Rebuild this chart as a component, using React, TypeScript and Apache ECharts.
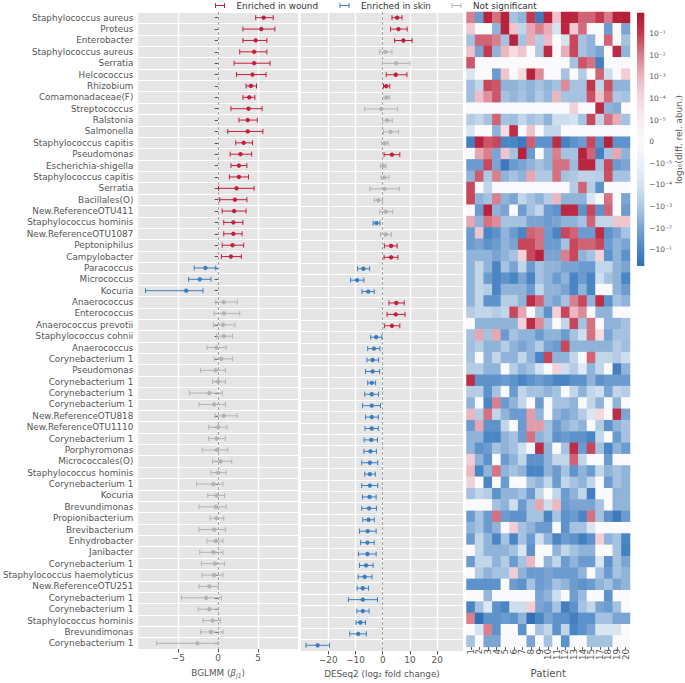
import React, { useEffect, useRef } from 'react';
import * as echarts from 'echarts';

const taxa = [
  'Staphylococcus aureus', 'Proteus', 'Enterobacter', 'Staphylococcus aureus', 'Serratia', 'Helcococcus',
  'Rhizobium', 'Comamonadaceae(F)', 'Streptococcus', 'Ralstonia', 'Salmonella', 'Staphylococcus capitis',
  'Pseudomonas', 'Escherichia-shigella', 'Staphylococcus capitis', 'Serratia', 'Bacillales(O)',
  'New.ReferenceOTU411', 'Staphylococcus hominis', 'New.ReferenceOTU1087', 'Peptoniphilus', 'Campylobacter',
  'Paracoccus', 'Micrococcus', 'Kocuria', 'Anaerococcus', 'Enterococcus', 'Anaerococcus prevotii',
  'Staphylococcus cohnii', 'Anaerococcus', 'Corynebacterium 1', 'Pseudomonas', 'Corynebacterium 1',
  'Corynebacterium 1', 'Corynebacterium 1', 'New.ReferenceOTU818', 'New.ReferenceOTU1110', 'Corynebacterium 1',
  'Porphyromonas', 'Micrococcales(O)', 'Staphylococcus hominis', 'Corynebacterium 1', 'Kocuria', 'Brevundimonas',
  'Propionibacterium', 'Brevibacterium', 'Enhydrobacter', 'Janibacter', 'Corynebacterium 1',
  'Staphylococcus haemolyticus', 'New.ReferenceOTU251', 'Corynebacterium 1', 'Corynebacterium 1',
  'Staphylococcus hominis', 'Brevundimonas', 'Corynebacterium 1',
];

const patients = ['1', '2', '3', '4', '5', '6', '7', '8', '9', '10', '11', '12', '13', '14', '15', '17', '18', '19', '20'];

const bglmmEst = [5.7, 5.4, 4.7, 4.5, 4.5, 4.3, 4.1, 3.9, 3.8, 3.7, 3.7, 3.2, 2.8, 2.6, 2.6, 2.3, 2.1, 2.0, 1.9, 1.9, 1.8, 1.6, -1.6, -2.3, -4.0, 0.7, 0.7, 0.6, 0.7, -0.2, 0.4, -0.3, 0.0, -1.1, -0.5, 0.7, 0.0, -0.2, -0.1, 0.3, 0.0, -0.6, -0.2, -0.3, -0.2, -0.5, -0.3, -0.6, -0.4, -0.5, -1.1, -1.5, -1.1, -0.7, -0.9, -2.6];
const bglmmLo = [4.7, 3.1, 3.1, 2.7, 2.0, 2.3, 3.5, 3.1, 1.6, 2.6, 1.2, 2.2, 1.5, 1.6, 1.4, 0.05, 0.2, 0.5, 0.7, 0.7, 0.5, 0.4, -3.0, -3.7, -9.1, -0.3, -0.5, -0.6, -0.2, -1.4, -0.5, -2.2, -0.7, -3.6, -2.4, -0.4, -1.2, -1.2, -2.0, -0.7, -0.9, -2.7, -1.3, -2.4, -1.0, -2.4, -1.4, -2.3, -2.1, -2.0, -2.4, -4.6, -2.5, -1.9, -2.2, -7.7];
const bglmmHi = [6.9, 7.1, 6.1, 6.1, 6.5, 6.0, 4.8, 4.6, 5.5, 4.9, 5.6, 4.3, 4.2, 3.6, 3.8, 4.5, 3.6, 3.5, 3.1, 3.0, 3.2, 2.9, -0.3, -0.9, -1.9, 2.4, 2.7, 2.1, 1.8, 1.0, 1.8, 0.9, 0.9, 0.5, 0.9, 2.4, 1.1, 0.9, 1.2, 1.7, 1.0, 0.6, 0.8, 1.0, 0.7, 0.9, 0.6, 0.6, 0.8, 0.6, 0.0, 0.4, 0.0, 0.3, 0.6, 0.0];
const bglmmSig = ['w', 'w', 'w', 'w', 'w', 'w', 'w', 'w', 'w', 'w', 'w', 'w', 'w', 'w', 'w', 'w', 'w', 'w', 'w', 'w', 'w', 'w', 's', 's', 's', 'n', 'n', 'n', 'n', 'n', 'n', 'n', 'n', 'n', 'n', 'n', 'n', 'n', 'n', 'n', 'n', 'n', 'n', 'n', 'n', 'n', 'n', 'n', 'n', 'n', 'n', 'n', 'n', 'n', 'n', 'n'];

const deseqEst = [5.3, 5.8, 7.6, 1.0, 5.0, 4.8, 1.3, 1.5, -0.5, 1.6, 2.9, 0.8, 3.4, 0.3, 0.6, 0.6, -1.6, 1.1, -2.3, 1.1, 3.1, 3.1, -7.1, -9.4, -5.3, 5.0, 4.8, 3.4, -2.4, -3.2, -3.7, -3.7, -4.0, -4.0, -4.0, -4.0, -4.0, -4.2, -4.5, -4.7, -4.7, -4.7, -4.8, -5.0, -5.2, -5.5, -5.6, -5.6, -6.1, -6.6, -7.3, -7.3, -7.3, -8.2, -9.0, -23.9];
const deseqLo = [3.4, 2.9, 4.4, -1.1, -0.1, 1.3, 0.3, 0.5, -6.6, 0.0, 0.3, -0.3, 0.5, -0.8, -0.6, -4.7, -3.1, -1.1, -3.5, -0.8, 0.6, 0.5, -9.2, -11.8, -7.6, 2.3, 1.6, 0.6, -4.4, -5.5, -5.8, -6.3, -5.5, -6.6, -7.4, -6.3, -6.5, -6.8, -6.9, -7.7, -6.6, -7.7, -7.4, -7.7, -7.3, -8.5, -8.1, -8.9, -8.5, -9.0, -9.4, -12.6, -9.5, -9.8, -12.1, -28.2];
const deseqHi = [7.1, 9.0, 10.8, 3.4, 10.0, 8.9, 2.6, 2.6, 5.5, 3.5, 5.8, 2.1, 6.3, 1.3, 2.3, 6.1, 0.0, 3.7, -1.0, 3.2, 5.3, 5.6, -4.8, -6.9, -3.1, 7.9, 8.2, 6.3, -0.3, -1.0, -1.5, -1.1, -2.6, -1.5, -0.8, -1.6, -1.6, -1.9, -2.3, -1.8, -2.7, -1.8, -2.4, -2.3, -3.1, -2.4, -3.1, -2.4, -3.5, -3.9, -5.2, -1.9, -5.0, -6.3, -6.0, -19.5];
const deseqSig = ['w', 'w', 'w', 'n', 'n', 'w', 'w', 'n', 'n', 'n', 'n', 'n', 'w', 'n', 'n', 'n', 'n', 'n', 's', 'n', 'w', 'w', 's', 's', 's', 'w', 'w', 'w', 's', 's', 's', 's', 's', 's', 's', 's', 's', 's', 's', 's', 's', 's', 's', 's', 's', 's', 's', 's', 's', 's', 's', 's', 's', 's', 's', 's'];

// symlog level of the difference in relative abundance (0 = 0, +-1 = +-1e-5 ... +-5 = +-1e-1)
const heat = [
  [4.0, -4.3, 5.6, 4.2, 5.6, -3.2, -3.6, 5.0, -5.3, 5.6, 2.7, 5.6, 5.5, 4.4, 4.4, 5.0, 4.1, 5.6, 5.7],
  [2.4, 0, 0, -3.6, 5.6, 2.6, -2.5, 3.3, 4.0, 3.2, -2.0, 5.5, 2.4, 4.3, 0, 0, -4.3, 0, -4.0],
  [-3.2, 4.4, 4.4, 4.0, -3.2, 5.6, -3.2, 3.2, -2.9, 2.9, 0, -2.0, 4.8, -3.2, -3.6, 0, 4.4, 0, -3.2],
  [2.7, -4.0, 5.0, -3.6, 3.0, 1.8, 2.6, 0, -3.0, 5.4, 0, 3.2, 4.8, -3.2, -3.6, -4.0, 0, 5.4, -3.6],
  [4.6, 0, 0, 0, 0, 0, 0, 0, 0, 0, 0, 0, -3.2, 4.6, 4.2, -5.2, 0, 0, 0],
  [-1.8, 0, 0, -4.3, 2.6, 0, 1.8, 5.6, 3.8, 0, 0, -3.2, 0, -2.9, 0, 4.4, -2.2, 0, 2.3],
  [-3.3, -2.5, 4.8, 4.6, -3.6, -3.6, -3.3, -3.6, -3.2, -3.6, -3.2, 3.8, -3.2, -3.2, 5.1, -2.5, 4.7, -3.6, -3.6],
  [-3.3, 2.8, 3.7, 4.6, -3.2, -3.5, -3.2, -3.6, -3.0, -3.5, 3.0, -3.2, -3.2, -3.2, 4.7, 2.6, 4.3, -3.0, -3.2],
  [0, 0, 0, 0, 0, 0, 0, 0, 0, 0, 0, 0, 2.2, 0, 0, 5.4, -3.6, -3.8, 0],
  [-2.9, -2.5, -3.2, 4.4, -3.2, -3.3, -2.5, -3.2, -2.9, -3.6, -2.2, -2.2, -2.0, -3.2, 4.8, -2.5, 4.2, 3.2, -3.2],
  [-1.8, 0, 0, -3.6, 1.8, 5.3, 0, 2.6, 0, -2.5, -2.5, 0, 0, 0, 0, 0, 0, 0, 0],
  [-5.2, 5.6, 4.6, 4.8, -5.0, -5.0, -5.4, 4.5, -4.6, -4.6, 5.3, -5.2, -4.6, -4.3, 4.8, -4.6, 5.6, -4.6, -4.6],
  [0, 3.3, 4.0, -4.0, 2.6, -3.2, 5.6, -4.3, 0, -3.6, 4.0, -3.2, -3.2, 5.6, 4.4, -5.2, -3.2, 3.3, -3.6],
  [-4.3, -4.3, 4.8, -4.0, -5.4, -4.3, -4.0, -3.6, -3.2, -3.6, 4.2, 4.2, -3.4, 5.5, 5.5, -3.2, 4.8, -4.3, -4.0],
  [-3.6, 4.5, -3.0, 4.0, -3.6, -3.2, -3.6, 3.3, -3.0, -3.0, 4.2, -3.2, -3.0, -2.6, -2.6, -2.8, 4.7, -3.2, -3.2],
  [4.8, 0, -2.5, 0, 0, 0, 0, 0, 0, 0, 0, 0, -2.9, 4.4, -2.9, -4.6, 0, 0, 0],
  [4.8, -3.6, -3.2, 4.0, -3.6, -4.0, -2.5, -3.2, -3.6, -2.9, 3.0, -3.6, -3.6, -3.6, -1.8, 0, 4.2, 0, -4.0],
  [0, -4.3, 5.6, -3.6, -4.0, 0, -4.3, -3.2, -2.5, -4.3, -4.6, 5.4, 5.4, -4.6, 4.8, -4.6, 4.4, 0, -4.3],
  [3.3, -3.6, 4.2, 3.8, -3.2, -3.2, -3.2, -4.0, -4.0, -4.3, -4.0, -3.6, -3.6, -3.2, 4.4, -2.5, -2.5, 2.6, 2.6],
  [-4.3, 2.6, -5.0, -4.6, -3.6, -4.3, -5.0, 4.4, 4.2, -4.3, -5.0, 4.8, 4.4, -4.3, -4.3, 5.3, -4.6, -4.0, -3.2],
  [-4.3, -4.0, -4.6, -4.3, -3.6, -4.0, 4.8, 4.8, 4.2, -4.3, -4.3, -3.2, 4.8, 4.4, 4.4, 4.8, -4.3, -3.6, -4.0],
  [-3.6, -3.6, -3.6, -4.0, -3.6, -3.2, 2.2, 4.8, 5.6, -4.0, -4.0, 4.0, 4.8, -3.6, -3.2, 2.2, -4.6, -3.6, -4.6],
  [-3.6, -2.5, -3.6, -5.0, -3.2, -4.0, -2.5, -4.3, -3.2, -3.6, -3.6, -4.0, -4.0, -4.3, -4.3, -2.5, -2.5, -3.6, -4.0],
  [-3.6, -2.5, -4.3, -5.0, -4.6, -5.0, -4.0, -5.0, -3.2, -3.6, -4.3, -3.6, -5.0, -4.3, -5.0, -2.2, -3.2, -3.6, -5.0],
  [-3.6, -2.5, -2.9, -5.0, -3.6, -3.6, -3.6, -4.3, -2.5, -3.6, -3.6, -4.0, -5.0, -3.6, -5.0, 0, 0, -3.6, -4.3],
  [-3.6, -2.5, -4.6, -4.6, -2.9, -2.9, -3.6, 5.3, 4.4, -3.6, -4.0, -3.2, 4.0, 4.8, -3.6, 5.3, -4.6, -3.2, -3.6],
  [-2.9, -2.5, -2.5, -2.9, -2.5, 4.8, 3.3, 0, -3.2, -4.6, 2.2, 4.8, 3.0, 3.8, 0, -3.6, -3.6, 0, 0],
  [0, -3.6, -3.6, -3.6, -3.6, -3.6, 2.2, 5.3, 3.8, -3.2, 0, -2.5, 4.8, -3.2, 4.2, 0, -3.6, -3.6, -3.2],
  [-3.2, 3.3, -3.2, 3.3, -4.3, -3.2, -3.6, -3.6, -4.3, -3.6, -3.6, -4.3, -3.2, -2.2, 4.2, 1.8, -4.0, -3.2, -3.2],
  [-3.3, -2.9, -3.6, -3.6, -2.9, -3.6, -4.0, -3.6, -2.9, -4.0, -4.3, 4.8, -3.6, -3.6, -3.6, -3.6, -3.6, -2.9, -3.3],
  [-3.2, 0, -3.6, -2.5, -3.6, -3.6, -2.5, -3.6, -5.0, 4.8, -3.6, -3.6, -2.5, 0, 4.4, -2.5, -2.5, -2.9, -2.2],
  [-2.9, -2.9, -3.6, -3.6, 0, -2.9, -3.6, -3.2, -2.0, 0, 2.2, -2.2, -2.9, -1.5, -3.6, -2.5, 0, -5.2, -3.6],
  [5.3, -4.6, -4.6, -4.6, -4.3, -4.6, -5.0, -4.6, -4.3, -4.6, -5.0, -5.0, -4.6, -4.6, -3.6, -4.6, -4.3, -4.3, -4.3],
  [-2.9, -2.9, -4.6, -3.2, 0, -4.3, -2.5, -3.2, -3.2, -3.6, -3.2, 0, -2.5, -3.6, -2.5, -2.2, -4.0, -2.5, -2.9],
  [-3.6, 0, -5.0, 4.0, -4.3, -3.6, -2.5, 0, -4.3, 0, -3.2, -3.2, -3.6, 0, -2.5, -3.6, 0, -3.6, 0],
  [3.0, -2.9, 4.2, -2.5, -3.6, -4.3, -4.3, 3.5, -3.6, 0, -3.6, -4.0, -3.6, -2.9, -1.8, 2.0, 0, 5.3, -4.0],
  [-4.3, 3.3, -4.6, -4.6, -2.5, 0, -4.3, 3.5, 3.5, -3.2, -4.3, -3.6, -3.2, -3.6, 0, -2.9, -4.6, -3.6, -3.2],
  [-3.6, -3.6, -5.0, -5.0, -3.6, -3.2, -4.3, 4.2, -3.6, -3.2, -4.6, -4.3, -4.6, -4.6, -5.0, -2.5, 0, -4.3, -3.2],
  [-3.6, -4.6, -4.3, -3.2, -3.6, -3.2, -2.2, 0, 5.3, -3.6, 0, -3.2, 5.3, -4.3, 4.8, -3.2, -5.0, -3.6, -4.3],
  [2.3, -3.6, -4.6, 0, -4.3, -3.6, -2.5, -4.6, -4.6, -3.6, -2.5, -2.5, 4.4, -2.5, 0, 0, -4.3, 0, 0],
  [3.0, -5.0, -3.6, 4.2, -3.6, -3.2, -3.6, -5.0, -5.0, -3.6, -4.3, -3.2, -4.6, -3.6, -4.3, -2.5, -3.6, -3.2, -3.6],
  [2.2, 0, -5.0, 0, -4.3, 0, 0, -3.2, -3.6, -2.5, -4.3, -2.5, -3.2, -3.6, -2.5, 0, -4.3, -3.2, -3.6],
  [-3.2, -2.5, -2.9, -4.6, -3.6, -3.6, -3.2, -4.3, -2.5, 0, -2.5, -4.3, -3.6, -2.5, -5.2, 0, 0, -3.6, -3.6],
  [0, 0, 0, -3.2, -3.6, -2.2, -4.3, -3.2, 3.3, -2.2, 3.0, -4.3, -4.0, -4.0, -4.0, -3.2, 0, -3.6, -3.6],
  [-4.3, -3.2, -4.3, 4.2, -4.3, -4.6, -4.6, -3.2, -3.2, -5.0, -3.2, -4.6, -4.3, -5.0, 4.2, -3.2, -4.6, -5.4, -4.3],
  [-3.6, -3.2, -4.3, -3.6, 0, 2.3, -3.2, -3.6, -4.3, -4.3, 0, -4.6, -3.2, -3.2, -1.8, 0, 0, 0, 0],
  [-4.3, -2.5, -3.6, -5.0, -3.2, -5.0, -3.2, -4.3, -2.2, -3.6, -5.0, -4.3, -4.6, -5.2, -4.6, 2.3, -3.6, -3.2, -5.0],
  [0, -2.5, -3.6, -3.6, -3.6, -3.2, -1.8, -4.6, 0, 0, -3.6, -2.5, -3.2, -3.6, -3.6, 0, 0, -3.2, -5.2],
  [-4.3, -2.5, -2.5, -3.6, -2.9, -4.3, -3.2, 3.0, 0, -3.6, -2.5, -4.3, -3.6, -4.3, -4.3, -1.8, -4.6, -3.2, -4.0],
  [0, -2.9, -3.6, -3.2, -3.2, 2.3, -3.6, -4.3, -4.3, -4.0, -4.3, -4.3, -4.3, -3.6, 0, -3.2, -4.3, -3.2, -3.6],
  [-4.6, -4.6, -4.6, -4.6, 0, -4.3, -4.6, -3.2, -4.3, -4.0, -3.2, -3.6, -4.3, -4.6, -4.3, -3.6, -3.2, -4.0, -3.6],
  [0, 0, -3.5, 0, 0, 0, 0, 0, -4.0, -3.6, -2.2, 0, -4.2, -3.4, 0, 0, -4.6, 0, 0],
  [-5.0, -3.2, -1.6, -4.6, -5.0, -2.2, -2.2, 2.3, -4.0, -4.3, -3.2, -5.2, -4.6, -3.2, -2.5, -4.0, -4.3, -3.2, 0],
  [4.0, -5.7, -4.6, -4.6, -4.3, -4.6, -3.6, -5.7, -5.0, -4.0, -4.6, -4.6, -5.2, -4.6, -4.6, -3.2, -3.2, -4.0, -4.0],
  [0, -2.0, 4.0, -4.6, 0, 0, -4.6, 0, -3.2, -2.5, -4.6, -2.5, -5.0, -4.6, -4.0, -1.8, -1.8, -1.8, 0],
  [-3.2, 0, -4.0, -4.0, 0, 0, 0, -4.0, 0, -3.2, 0, -4.6, 0, 0, -3.2, -3.2, -3.2, 0, 0],
];

// colour bar range (symlog levels) and tick levels
const cbMin = -5.75;
const cbMax = 5.97;
const cbTicks = [-5, -4, -3, -2, -1, 0, 1, 2, 3, 4, 5];

const cmap = ['#2A66AE', '#4A86C4', '#7BA4D3', '#B0C9E3', '#D4E3F1', '#EBF1F8', '#FAFAFC', '#F8ECEF', '#F4D8DE', '#EBB8C2', '#D9808F', '#C33A50', '#B0122E'];

const RED = '#C41E3A';
const BLUE = '#3A7EC0';
const GREY = '#B3B3B3';
const FONT = 'DejaVu Sans';
const LABEL = '#555555';

const sigColor: Record<string, string> = { w: RED, s: BLUE, n: GREY };
const sigName: Record<string, string> = { w: 'Enriched in wound', s: 'Enriched in skin', n: 'Not significant' };

const SUP: Record<string, string> = { '0': '⁰', '1': '¹', '2': '²', '3': '³', '4': '⁴', '5': '⁵', '6': '⁶', '-': '⁻' };
const sup = (s: string) => s.split('').map((c) => SUP[c] || c).join('');
const umin = (v: number) => String(v).replace('-', '−');

function errRender(params: any, api: any) {
  const r = api.value(0);
  const est = api.value(1);
  const lo = api.value(2);
  const hi = api.value(3);
  const pE = api.coord([est, r]);
  const pL = api.coord([lo, r]);
  const pH = api.coord([hi, r]);
  const y = pE[1];
  const color = api.visual('color');
  const st = { stroke: color, lineWidth: 1 };
  return {
    type: 'group',
    children: [
      { type: 'line', shape: { x1: pL[0], y1: y, x2: pH[0], y2: y }, style: st },
      { type: 'line', shape: { x1: pL[0], y1: y - 2.5, x2: pL[0], y2: y + 2.5 }, style: st },
      { type: 'line', shape: { x1: pH[0], y1: y - 2.5, x2: pH[0], y2: y + 2.5 }, style: st },
      { type: 'circle', shape: { cx: pE[0], cy: y, r: 2.2 }, style: { fill: color } },
    ],
  };
}

function forestSeries(panel: number, est: number[], lo: number[], hi: number[], sig: string[]) {
  return ['w', 's', 'n'].map((k, i) => ({
    type: 'custom',
    name: sigName[k],
    xAxisIndex: panel,
    yAxisIndex: panel,
    itemStyle: { color: sigColor[k] },
    encode: { x: [1, 2, 3], y: 0 },
    data: taxa
      .map((_, r) => [r, est[r], lo[r], hi[r], sig[r]])
      .filter((d) => d[4] === k)
      .map((d) => d.slice(0, 4)),
    renderItem: errRender,
    z: 3,
    markLine:
      i === 0
        ? {
            silent: true,
            symbol: ['none', 'none'],
            label: { show: false },
            lineStyle: { color: '#A5A5A5', type: [3, 2], width: 1.1 },
            data: [{ xAxis: 0 }],
            z: 2,
          }
        : undefined,
  }));
}

const ICON = 'path://M0,0H2V10H0Z M18,0H20V10H18Z M0,4H20V6H0Z';

function buildOption() {
  const heatData: number[][] = [];
  heat.forEach((row, r) => row.forEach((v, c) => heatData.push([c, r, v])));

  const legendBase = {
    top: 1,
    padding: 0,
    itemWidth: 11,
    itemHeight: 5,
    textStyle: { fontFamily: FONT, fontSize: 8.8, color: '#333', padding: [0, 0, 0, 6] },
  };

  const valueX = (grid: number, min: number, max: number, interval: number, ticks: number[], name: any, nameStyle: any) => ({
    gridIndex: grid,
    type: 'value',
    min,
    max,
    interval,
    name,
    nameLocation: 'middle',
    nameGap: 18,
    nameTextStyle: nameStyle,
    axisLine: { show: false },
    axisTick: { show: true, length: 3.5, lineStyle: { color: LABEL }, customValues: ticks },
    axisLabel: {
      fontFamily: FONT,
      fontSize: 8.8,
      color: LABEL,
      margin: 4,
      customValues: ticks,
      formatter: (v: number) => (ticks.indexOf(v) >= 0 ? umin(v) : ''),
    },
    splitLine: { show: true, lineStyle: { color: '#FFFFFF', width: 1.3 } },
  });

  const catY = (grid: number, labels: boolean) => ({
    gridIndex: grid,
    type: 'category',
    data: taxa,
    inverse: true,
    axisLine: { show: false },
    axisTick: { show: labels, length: 3.5, alignWithLabel: true, lineStyle: { color: LABEL } },
    axisLabel: { show: labels, fontFamily: FONT, fontSize: 8.8, color: LABEL, margin: 5, interval: 0 },
    splitLine: { show: true, interval: 0, lineStyle: { color: '#FFFFFF', width: 1 } },
  });

  return {
    animation: false,
    textStyle: { fontFamily: FONT },
    legend: [
      { ...legendBase, left: 215, data: [{ name: 'Enriched in wound', icon: ICON }] },
      { ...legendBase, left: 339.5, data: [{ name: 'Enriched in skin', icon: ICON }] },
      { ...legendBase, left: 451.5, data: [{ name: 'Not significant', icon: ICON }] },
    ],
    grid: [
      { left: 136, top: 12, width: 162, height: 644, show: true, backgroundColor: '#E5E5E5', borderWidth: 0 },
      { left: 301, top: 12, width: 162, height: 644, show: true, backgroundColor: '#E5E5E5', borderWidth: 0 },
      { left: 466.5, top: 12, width: 163.5, height: 644, show: false },
      { left: 637, top: 12.1, width: 7.3, height: 259.2, show: false },
    ],
    xAxis: [
      valueX(0, -10, 10, 5, [-5, 0, 5], 'BGLMM ({i|β}{s|j1})', {
        fontFamily: FONT,
        fontSize: 8.8,
        color: LABEL,
        rich: {
          i: { fontFamily: FONT, fontSize: 8.8, fontStyle: 'italic', color: LABEL },
          s: { fontFamily: FONT, fontSize: 6.2, fontStyle: 'italic', color: LABEL, padding: [5, 0, 0, 0] },
        },
      }),
      valueX(1, -30, 29.5, 10, [-20, -10, 0, 10, 20], 'DESeq2 (log₂ fold change)', {
        fontFamily: FONT,
        fontSize: 8.8,
        color: LABEL,
      }),
      {
        gridIndex: 2,
        type: 'category',
        data: patients,
        name: 'Patient',
        nameLocation: 'middle',
        nameGap: 17.5,
        nameTextStyle: { fontFamily: FONT, fontSize: 10.2, color: LABEL },
        axisLine: { show: false },
        axisTick: { show: true, length: 3, alignWithLabel: true, lineStyle: { color: LABEL } },
        axisLabel: { fontFamily: FONT, fontSize: 8.8, color: LABEL, rotate: 90, margin: 2, interval: 0 },
        splitLine: { show: false },
      },
      { gridIndex: 3, type: 'value', min: 0, max: 1, show: false },
    ],
    yAxis: [
      catY(0, true),
      catY(1, false),
      { gridIndex: 2, type: 'category', data: taxa, inverse: true, show: false },
      {
        gridIndex: 3,
        type: 'value',
        min: -6,
        max: 6,
        interval: 1,
        position: 'right',
        axisLine: { show: false },
        axisTick: { show: true, length: 3, lineStyle: { color: LABEL }, customValues: cbTicks },
        axisLabel: {
          fontFamily: FONT,
          fontSize: 7.5,
          color: LABEL,
          margin: 5,
          customValues: cbTicks,
          formatter: (v: number) => {
            if (cbTicks.indexOf(v) < 0) return '';
            if (v === 0) return '0';
            const e = sup('-' + String(6 - Math.abs(v)));
            return v > 0 ? '10' + e : '−10' + e;
          },
        },
        splitLine: { show: false },
      },
    ],
    visualMap: {
      type: 'continuous',
      show: false,
      min: -6,
      max: 6,
      seriesIndex: 6,
      inRange: { color: cmap },
    },
    series: [
      ...forestSeries(0, bglmmEst, bglmmLo, bglmmHi, bglmmSig),
      ...forestSeries(1, deseqEst, deseqLo, deseqHi, deseqSig),
      {
        type: 'heatmap',
        xAxisIndex: 2,
        yAxisIndex: 2,
        data: heatData,
        progressive: 0,
        itemStyle: { borderWidth: 0 },
        emphasis: { disabled: true },
      },
      {
        type: 'custom',
        xAxisIndex: 3,
        yAxisIndex: 3,
        silent: true,
        data: [[0, cbMin, cbMax]],
        encode: { x: 0, y: [1, 2] },
        renderItem: (params: any, api: any) => {
          const lo = api.value(1);
          const hi = api.value(2);
          const pTop = api.coord([0, hi]);
          const pBot = api.coord([1, lo]);
          const g0 = api.coord([0, 6]);
          const g1 = api.coord([0, -6]);
          const stops = cmap
            .slice()
            .reverse()
            .map((c, i) => ({ offset: i / (cmap.length - 1), color: c }));
          return {
            type: 'rect',
            shape: { x: pTop[0], y: pTop[1], width: pBot[0] - pTop[0], height: pBot[1] - pTop[1] },
            style: { fill: new echarts.graphic.LinearGradient(g0[0], g0[1], g1[0], g1[1], stops, true) },
          };
        },
      },
    ],
    graphic: [
      {
        type: 'text',
        x: 679,
        y: 139.5,
        rotation: Math.PI / 2,
        style: {
          text: 'log₁₀(diff. rel. abun.)',
          fontFamily: FONT,
          fontSize: 8.8,
          fill: LABEL,
          align: 'center',
          verticalAlign: 'middle',
        },
      },
    ],
  };
}

export default function App() {
  const ref = useRef<HTMLDivElement>(null);
  useEffect(() => {
    const chart = echarts.init(ref.current as HTMLDivElement, null, { renderer: 'svg' });
    chart.setOption(buildOption() as any);
    return () => chart.dispose();
  }, []);
  return <div ref={ref} style={{ position: 'absolute', left: 0, top: 0, width: 685, height: 683 }} />;
}
